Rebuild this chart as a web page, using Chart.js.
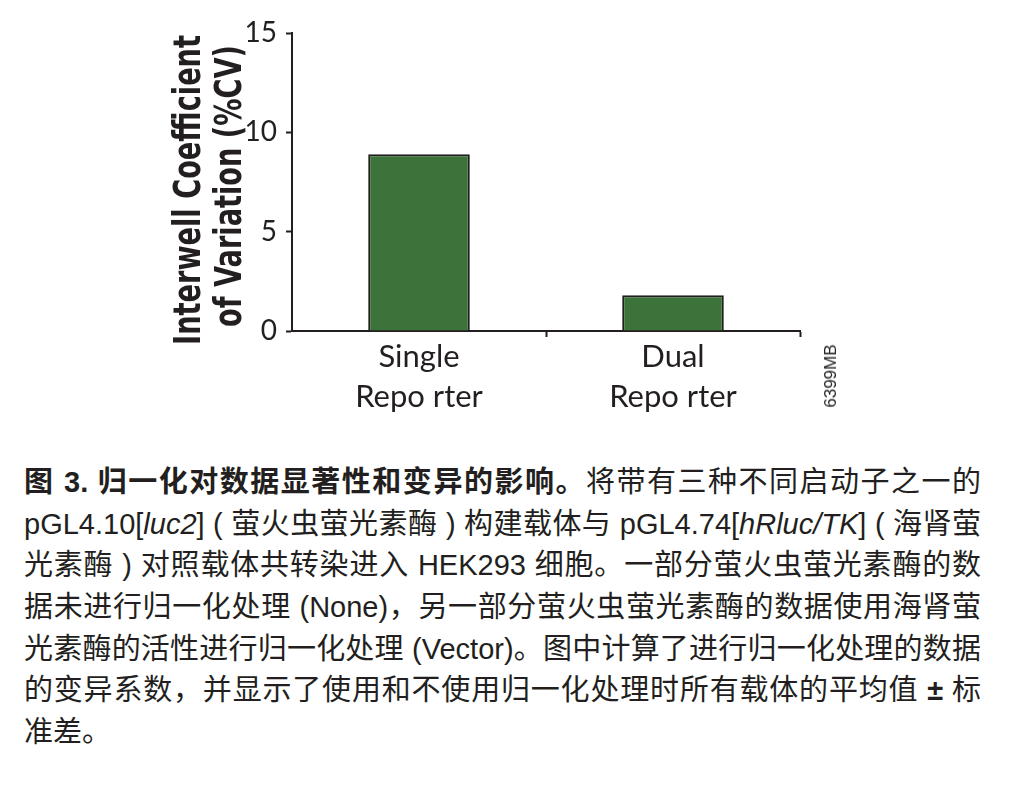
<!DOCTYPE html>
<html>
<head>
<meta charset="utf-8">
<script src="https://cdn.jsdelivr.net/npm/chart.js@4/dist/chart.umd.min.js"></script>
<style>
  html, body { margin: 0; padding: 0; background: #ffffff; }
  body { width: 1010px; height: 790px; position: relative; overflow: hidden; }
  #chart { position: absolute; left: 0; top: 0; width: 1010px; height: 440px; }
  #code {
    position: absolute; left: 831px; top: 376px;
    transform: translate(-50%, -50%) rotate(-90deg);
    font: 17px "Liberation Sans", Arial, sans-serif; color: #231f20; white-space: nowrap;
  }
  #caption {
    position: absolute; left: 24px; top: 462px; width: 957px;
    font-family: "Liberation Sans", "Noto Sans CJK SC", sans-serif;
    font-size: 29px; color: #231f20;
  }
  #caption .ln { height: 41.7px; line-height: 41.7px; white-space: nowrap; text-align: justify; text-align-last: justify; }
  #caption .ln.last { text-align-last: left; }
  #caption b { font-weight: 700; }
  #caption .pm { font-weight: 700; }
</style>
</head>
<body>
<canvas id="chart" width="1010" height="440"></canvas>
<div id="code">6399MB</div>
<div id="caption">
  <div class="ln"><b>图 3. 归一化对数据显著性和变异的影响。</b>将带有三种不同启动子之一的</div>
  <div class="ln">pGL4.10[<i>luc2</i>] ( 萤火虫萤光素酶 ) 构建载体与 pGL4.74[<i>hRluc/TK</i>] ( 海肾萤</div>
  <div class="ln">光素酶 ) 对照载体共转染进入 HEK293 细胞。一部分萤火虫萤光素酶的数</div>
  <div class="ln">据未进行归一化处理 (None)，另一部分萤火虫萤光素酶的数据使用海肾萤</div>
  <div class="ln">光素酶的活性进行归一化处理 (Vector)。图中计算了进行归一化处理的数据</div>
  <div class="ln">的变异系数，并显示了使用和不使用归一化处理时所有载体的平均值 <span class="pm">±</span> 标</div>
  <div class="ln last">准差。</div>
</div>
<script>
// ---- data ----
const categories = [["Single", "Repo rter"], ["Dual", "Repo rter"]];
const cvValues = [8.9, 1.8];
const yTickValues = [0, 5, 10, 15];
const yTitleLines = ["Interwell Coefficient", "of Variation (%CV)"];

const ink = "#231f20";
const barGreen = "#3c733a";

// condensed bold y-axis title (drawn as canvas text, squeezed with maxWidth)
const yTitlePlugin = {
  id: "yTitleCondensed",
  afterDraw(chart) {
    const ctx = chart.ctx;
    const specs = [
      { text: yTitleLines[0], x: 200, y: 190, w: 310 },
      { text: yTitleLines[1], x: 241, y: 186, w: 282 }
    ];
    ctx.save();
    ctx.fillStyle = ink;
    ctx.font = "bold 37px 'DejaVu Sans', sans-serif";
    ctx.textAlign = "center";
    ctx.textBaseline = "alphabetic";
    specs.forEach(s => {
      ctx.save();
      ctx.translate(s.x, s.y);
      ctx.rotate(-Math.PI / 2);
      ctx.fillText(s.text, 0, 0, s.w);
      ctx.restore();
    });
    ctx.restore();
  }
};

new Chart(document.getElementById("chart"), {
  type: "bar",
  data: {
    labels: categories,
    datasets: [{
      data: cvValues,
      backgroundColor: barGreen,
      borderColor: ink,
      borderWidth: 2,
      barPercentage: 0.4,
      categoryPercentage: 1.0
    }]
  },
  options: {
    responsive: false,
    animation: false,
    devicePixelRatio: 1,
    layout: { padding: { left: 0, top: 33, right: 210, bottom: 0 } },
    plugins: { legend: { display: false }, tooltip: { enabled: false } },
    scales: {
      x: {
        offset: true,
        grid: {
          offset: true,
          drawOnChartArea: false,
          drawTicks: true,
          tickLength: 6,
          tickWidth: 2,
          color: (c) => (c.index === 0 ? "rgba(0,0,0,0)" : ink)
        },
        border: { display: true, color: ink, width: 2 },
        ticks: {
          color: ink,
          padding: 0,
          maxRotation: 0,
          font: { family: "Lato, 'Liberation Sans', sans-serif", size: 31, lineHeight: "40px" }
        },
        afterFit: (s) => { s.height = 440 - 331; }
      },
      y: {
        min: 0,
        max: 15,
        afterBuildTicks: (s) => { s.ticks = yTickValues.map(v => ({ value: v })); },
        grid: {
          drawOnChartArea: false,
          drawTicks: true,
          tickLength: 6,
          tickWidth: 2,
          color: ink
        },
        border: { display: true, color: ink, width: 2 },
        ticks: {
          color: ink,
          padding: 9,
          font: { family: "Lato, 'Liberation Sans', sans-serif", size: 28 }
        },
        title: { display: false },
        afterFit: (s) => { s.width = 292; }
      }
    }
  },
  plugins: [yTitlePlugin]
});
</script>
</body>
</html>
